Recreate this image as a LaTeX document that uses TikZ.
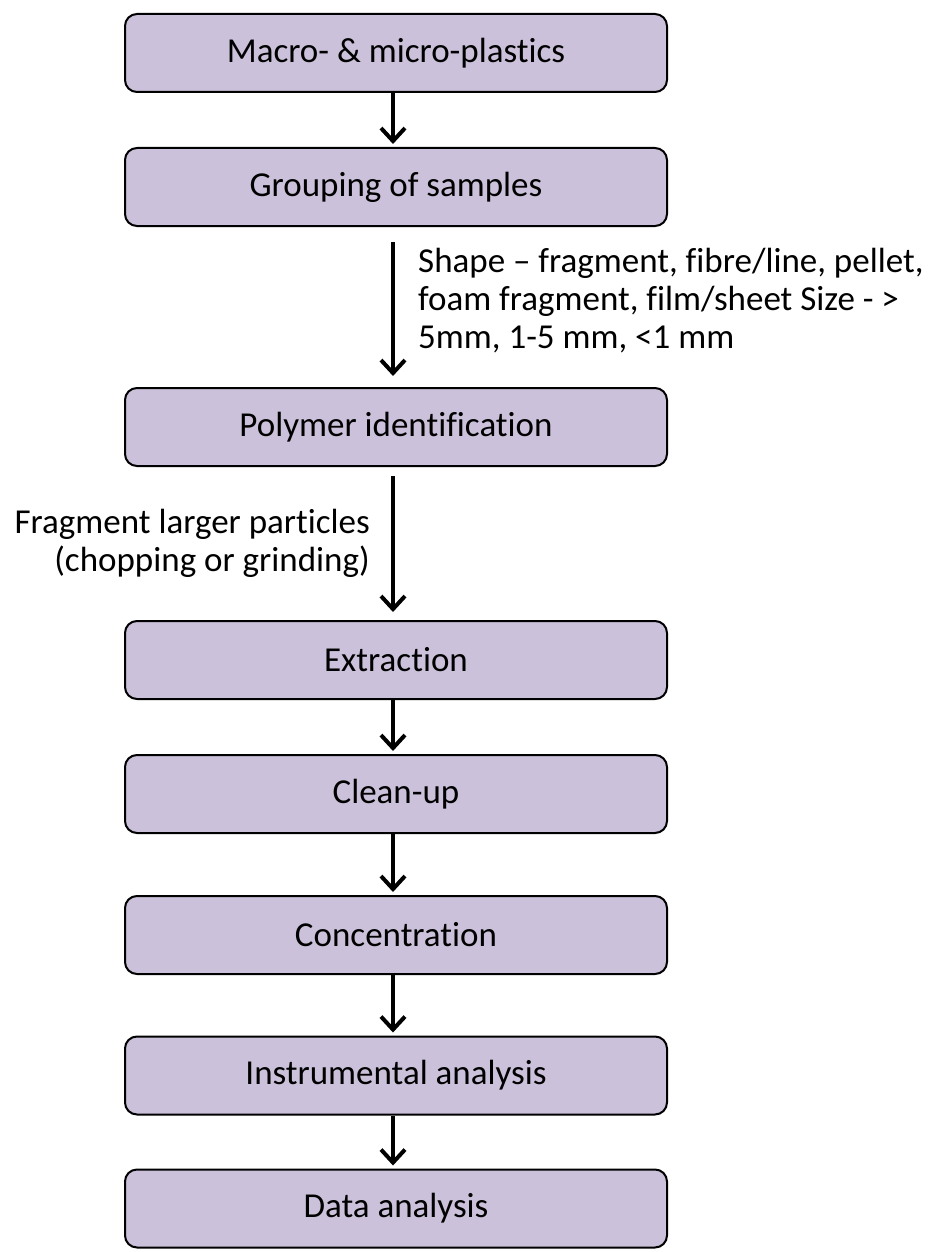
\documentclass[tikz,border=0pt]{standalone}
\usepackage{fontspec}
\setmainfont[Ligatures={TeX,NoCommon}]{Carlito}
\usetikzlibrary{arrows.meta}
\definecolor{boxfill}{HTML}{CCC1DA}
\begin{document}
\begin{tikzpicture}[x=1pt,y=-1pt,
  stepbox/.style={draw=black, line width=2pt, fill=boxfill, rounded corners=12pt,
    minimum width=542pt, minimum height=78pt, inner sep=0pt,
    font=\fontsize{35}{38}\selectfont},
  flow/.style={line width=4pt, -{Straight Barb[length=13pt,width=24pt]}},
  lbl/.style={font=\fontsize{35}{38}\selectfont, inner sep=0pt}]
\useasboundingbox[fill=white] (0,0) rectangle (934,1252);
\node[stepbox] (b1) at (396,53) {Macro- \& micro-plastics};
\node[stepbox] (b2) at (396,187) {Grouping of samples};
\node[stepbox] (b3) at (396,427) {Polymer identification};
\node[stepbox] (b4) at (396,660) {Extraction};
\node[stepbox] (b5) at (396,794) {Clean-up};
\node[stepbox] (b6) at (396,935) {Concentration};
\node[stepbox] (b7) at (396,1075.5) {Instrumental analysis};
\node[stepbox] (b8) at (396,1208.5) {Data analysis};

\draw[flow] ([xshift=-3pt]b1.south) -- ([xshift=-3pt,yshift=3pt]b2.north);
\draw[flow] ([xshift=-3pt,yshift=-15pt]b2.south) -- ([xshift=-3pt,yshift=11pt]b3.north);
\draw[flow] ([xshift=-3pt,yshift=-9pt]b3.south) -- ([xshift=-3pt,yshift=8pt]b4.north);
\draw[flow] ([xshift=-3pt]b4.south) -- ([xshift=-3pt,yshift=3pt]b5.north);
\draw[flow] ([xshift=-3pt]b5.south) -- ([xshift=-3pt,yshift=3pt]b6.north);
\draw[flow] ([xshift=-3pt]b6.south) -- ([xshift=-3pt,yshift=3pt]b7.north);
\draw[flow] ([xshift=-3pt]b7.south) -- ([xshift=-3pt,yshift=3pt]b8.north);

\node[lbl, align=left, anchor=west] (shape) at (418,301)
  {Shape -- fragment, fibre/line, pellet,\\foam fragment, film/sheet Size - >\\5mm, 1-5 mm, <1 mm};
\node[lbl, align=right, anchor=east] (frag) at (370,543)
  {Fragment larger particles\\(chopping or grinding)};
\end{tikzpicture}
\end{document}
